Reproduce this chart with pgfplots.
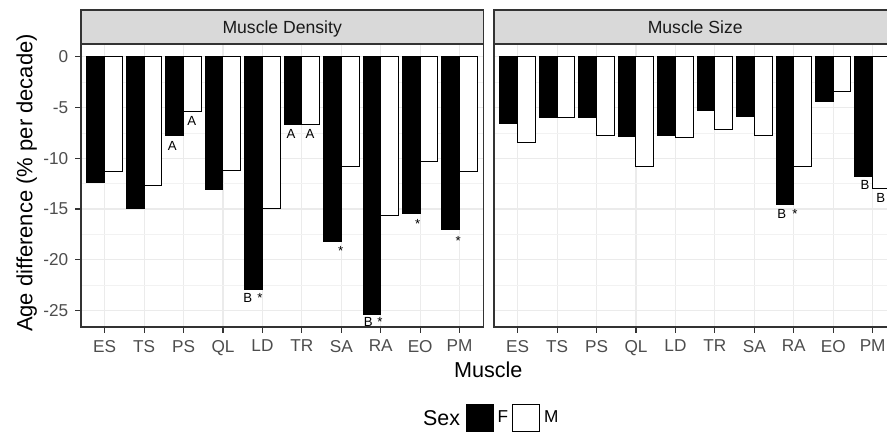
\documentclass[border=0pt]{standalone}
\usepackage{pgfplots}
\pgfplotsset{compat=1.18}
\usepackage{fontspec}
\setmainfont{Liberation Sans}
\definecolor{grey10}{HTML}{1A1A1A}
\definecolor{grey20}{HTML}{333333}
\definecolor{grey30}{HTML}{4D4D4D}
\definecolor{grey85}{HTML}{D9D9D9}
\definecolor{grey92}{HTML}{EBEBEB}
\definecolor{grey95}{HTML}{F2F2F2}
\tikzset{ann/.style={font=\fontsize{6.6}{7}\selectfont, anchor=base, inner sep=0pt, text=black}}
\pgfplotsset{
  panel/.style={
    scale only axis, width=201.15pt, height=141.5pt,
    xmin=-0.6, xmax=9.6, ymin=-26.64, ymax=1.27,
    xtick={0,...,9}, xticklabels={ES,TS,PS,QL,LD,TR,SA,RA,EO,PM},
    ytick={-25,-20,-15,-10,-5,0},
    minor ytick={-22.5,-17.5,-12.5,-7.5,-2.5},
    grid=both,
    major grid style={color=grey92, line width=0.6pt},
    minor grid style={color=grey95, line width=0.4pt},
    axis line style={color=grey20, line width=0.55pt},
    tick align=outside, xtick pos=bottom, ytick pos=left,
    major tick length=2.8pt, minor tick length=0pt,
    tick style={color=grey20, line width=0.55pt},
    /pgf/number format/assume math mode=true,
    ticklabel style={font=\fontsize{8.6}{10}\selectfont, text=grey30},
    xticklabel style={inner sep=0pt, yshift=-3.5pt},
    yticklabel style={inner sep=0pt, xshift=-3.4pt},
  },
  Fbar/.style={ybar, bar width=0.45, bar shift=-0.225, fill=black, draw=black, line width=0.5pt,
    legend image code/.code={\draw[fill=black, draw=black, line width=0.5pt] (0pt,-6.75pt) rectangle (13.5pt,6.75pt);}},
  Mbar/.style={ybar, bar width=0.45, bar shift=0.225, fill=white, draw=black, line width=0.5pt,
    legend image code/.code={\draw[fill=white, draw=black, line width=0.5pt] (0pt,-6.75pt) rectangle (13.5pt,6.75pt);}},
}
\begin{document}
\begin{tikzpicture}
% left panel: Muscle Density
\begin{axis}[panel, at={(40.5pt,-163.5pt)}, anchor=south west,
  legend style={at={(axis description cs:0.9563,-0.3216)}, anchor=west, draw=none, fill=none,
    inner sep=0pt, outer sep=0pt, legend columns=2,
    font=\fontsize{8.6}{10}\selectfont, nodes={inner sep=0pt, text=black},
    /tikz/every odd column/.append style={column sep=2pt},
    /tikz/every even column/.append style={column sep=2pt}},
  legend cell align=left]
\addplot[Fbar] coordinates {(0,-12.36) (1,-14.95) (2,-7.74) (3,-13.08) (4,-22.98) (5,-6.70) (6,-18.20) (7,-25.37) (8,-15.40) (9,-17.00)};
\addlegendentry{F}
\addplot[Mbar] coordinates {(0,-11.30) (1,-12.70) (2,-5.37) (3,-11.20) (4,-14.98) (5,-6.70) (6,-10.78) (7,-15.60) (8,-10.30) (9,-11.30)};
\addlegendentry{M}
\node[ann] at (axis cs:1.715,-9.26) {A};
\node[ann] at (axis cs:2.207,-6.74) {A};
\node[ann] at (axis cs:4.725,-8.04) {A};
\node[ann] at (axis cs:5.206,-8.04) {A};
\node[ann] at (axis cs:3.627,-24.24) {B};
\node[ann] at (axis cs:3.939,-24.24) {*};
\node[ann] at (axis cs:5.985,-19.63) {*};
\node[ann] at (axis cs:6.684,-26.63) {B};
\node[ann] at (axis cs:6.981,-26.63) {*};
\node[ann] at (axis cs:7.937,-16.91) {*};
\node[ann] at (axis cs:8.966,-18.58) {*};
\end{axis}
% right panel: Muscle Size
\begin{axis}[panel, at={(247pt,-163.5pt)}, anchor=south west, yticklabels={}, ytick pos=right]
\addplot[Fbar] coordinates {(0,-6.60) (1,-6.00) (2,-5.96) (3,-7.90) (4,-7.77) (5,-5.30) (6,-5.87) (7,-14.55) (8,-4.40) (9,-11.77)};
\addplot[Mbar] coordinates {(0,-8.40) (1,-5.96) (2,-7.80) (3,-10.80) (4,-8.00) (5,-7.20) (6,-7.80) (7,-10.78) (8,-3.40) (9,-13.00)};
\node[ann] at (axis cs:6.695,-15.98) {B};
\node[ann] at (axis cs:7.032,-15.98) {*};
\node[ann] at (axis cs:8.807,-13.10) {B};
\node[ann] at (axis cs:9.205,-14.34) {B};
\end{axis}
% strips
\draw[fill=grey85, draw=grey20, line width=0.55pt] (40.5pt,-22pt) rectangle (241.65pt,-5pt);
\draw[fill=grey85, draw=grey20, line width=0.55pt] (247pt,-22pt) rectangle (448.15pt,-5pt);
\node[anchor=base, inner sep=0pt, text=grey10, font=\fontsize{8.8}{10}\selectfont] at (141.1pt,-17pt) {Muscle Density};
\node[anchor=base, inner sep=0pt, text=grey10, font=\fontsize{8.8}{10}\selectfont] at (347.6pt,-17pt) {Muscle Size};
% axis titles
\node[anchor=base, rotate=90, inner sep=0pt, font=\fontsize{11}{13}\selectfont] at (16.2pt,-91.5pt) {Age difference (\% per decade)};
\node[anchor=base, inner sep=0pt, font=\fontsize{10.8}{13}\selectfont] at (244.15pt,-188.65pt) {Muscle};
\node[anchor=base west, inner sep=0pt, font=\fontsize{10.7}{13}\selectfont] at (211.35pt,-212.85pt) {Sex};
\pgfresetboundingbox
\useasboundingbox (0pt,0pt) rectangle (443.5pt,-218.5pt);
\end{tikzpicture}
\end{document}
